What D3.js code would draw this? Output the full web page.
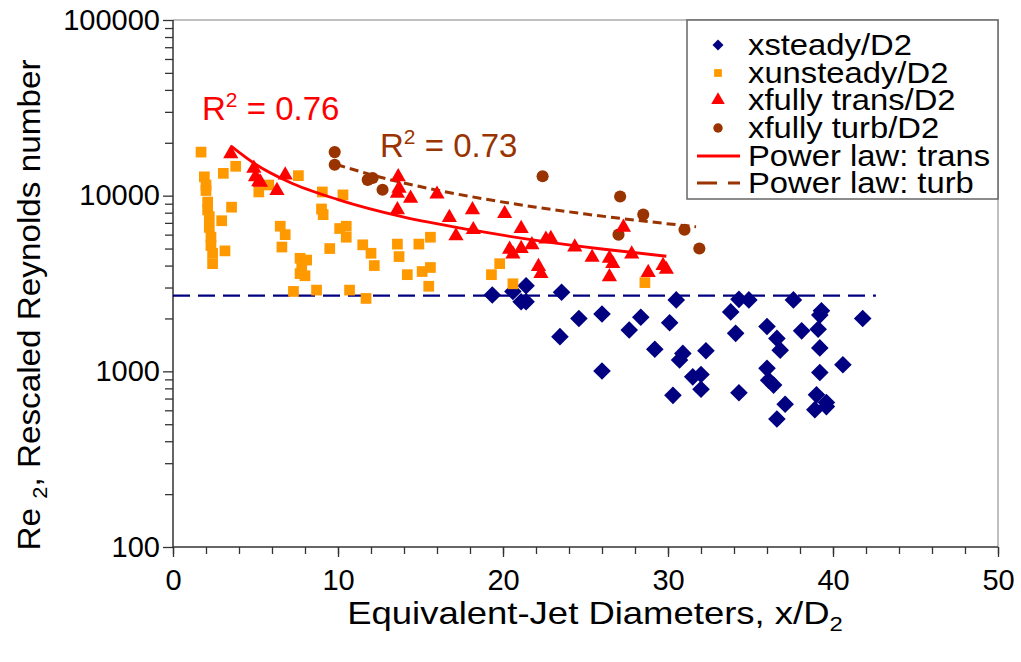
<!DOCTYPE html>
<html><head><meta charset="utf-8">
<script src="https://cdn.jsdelivr.net/npm/d3@7"></script>
<style>body{margin:0;background:#fff}svg{display:block;font-family:"Liberation Sans",Arial,sans-serif}</style>
</head><body><svg id="c" width="1021" height="662"></svg>
<script>
// ---- data (x/D2, Re2) ----
const steadyPts = [[19.35,2720],[20.6,2850],[21.4,3070],[21.1,2490],[21.4,2490],[23.55,2820],[24.6,2000],[23.45,1575],[26.0,2120],[26.0,1005],[27.65,1720],[28.35,2030],[29.2,1335],[30.5,2550],[30.1,1890],[30.9,1265],[30.7,1160],[32.3,1310],[31.5,930],[32.0,960],[32.0,790],[30.3,730],[34.3,2570],[34.9,2550],[33.8,2180],[34.1,1645],[34.3,755],[36.0,1800],[36.6,1540],[36.8,1320],[36.0,1040],[36.1,890],[36.4,835],[37.1,650],[36.6,535],[37.6,2550],[38.1,1700],[39.3,2210],[39.2,2090],[39.1,1735],[39.2,1360],[39.2,985],[39.0,735],[38.9,605],[39.6,665],[39.6,630],[40.6,1090],[41.8,2000]];
const unsteadyPts = [[1.7,17700],[1.9,12800],[2.0,11500],[2.0,10700],[2.1,9200],[2.1,8300],[2.2,7600],[2.2,6600],[2.3,5800],[2.3,5200],[2.4,4700],[2.4,4100],[3.05,13400],[3.8,14700],[3.55,8600],[2.95,7200],[3.15,4850],[5.2,10500],[5.8,11500],[7.6,13000],[6.5,6700],[6.8,6000],[6.6,5100],[7.7,4400],[8.1,4300],[7.8,4000],[7.7,3600],[8.0,3500],[7.3,2850],[8.7,2900],[9.05,10500],[9.0,8400],[9.1,7800],[10.3,10100],[10.1,6500],[10.5,6700],[10.5,5800],[9.5,5000],[10.7,2900],[11.5,5250],[12.0,4700],[12.2,4000],[11.7,2600],[13.6,5300],[13.7,4500],[14.2,3550],[14.9,5300],[15.6,5800],[15.1,3700],[15.6,3900],[15.5,3050],[19.3,3550],[19.8,4100],[20.6,3150],[28.6,3200]];
const transPts = [[3.5,17300],[4.9,14300],[5.0,12800],[5.2,12000],[5.3,11900],[6.3,10700],[6.8,13100],[13.65,12800],[13.7,11000],[13.6,10300],[14.4,9650],[13.6,8300],[16.0,10200],[16.75,7500],[17.15,5900],[18.15,8300],[18.2,6400],[20.1,7900],[21.1,6500],[20.4,4950],[20.6,4650],[21.1,5000],[21.75,5250],[22.15,3950],[22.3,3600],[22.6,5650],[22.9,5700],[24.35,5100],[25.4,4450],[26.45,4400],[26.65,4100],[26.45,3450],[27.3,6600],[27.8,4650],[28.8,3650],[29.7,4000],[29.9,3800]];
const turbPts = [[9.8,17700],[9.8,15000],[11.8,12300],[12.1,12600],[12.7,10800],[22.4,12900],[27.1,9900],[28.5,7800],[27.0,6000],[31.0,6400],[31.9,5000]];
const transFit = [[3.5,19200],[5,15100],[7,12000],[10,9500],[14,7550],[18,6400],[22,5570],[26,4970],[29.9,4520]];
const turbFit = [[9.9,15050],[13,12430],[16,10750],[19,9530],[22,8600],[25,7860],[28,7260],[31.7,6650]];
const threshold = {re: 2700, xMax: 42.6};
const xTicks = [0,10,20,30,40,50];
const yTicks = [100,1000,10000,100000];
const legendLabels = ["xsteady/D2","xunsteady/D2","xfully trans/D2","xfully turb/D2","Power law: trans","Power law: turb"];
const r2Labels = [{v:"0.76", color:"#FF0000", x:202, y:120},{v:"0.73", color:"#993300", x:380, y:157}];

// ---- colours ----
const C = {steady:"#000080", unsteady:"#FF9900", trans:"#FF0000", turb:"#993300"};

const svg = d3.select('#c');
const x = d3.scaleLinear().domain([0,50]).range([173,998]);
const y = d3.scaleLog().domain([100,100000]).range([547,20]);

// plot area border (top/right)
svg.append('path').attr('d',`M${x(0)},${y(100000)}H${x(50)}V${y(100)}`).attr('fill','none').attr('stroke','#aaa').attr('stroke-width',1.5);

// minor ticks
const yMinor = [];
[100,1000,10000].forEach(d=>{for(let k=2;k<=9;k++) yMinor.push(d*k);});
svg.append('g').attr('transform',`translate(${x(0)},0)`)
  .call(d3.axisLeft(y).tickValues(yMinor).tickSize(8).tickFormat(''))
  .call(g=>{g.select('.domain').remove(); g.selectAll('line').attr('stroke','#333').attr('stroke-width',1.3);});
const xMinor = d3.range(0,51,2);
svg.append('g').attr('transform',`translate(0,${y(100)})`)
  .call(d3.axisBottom(x).tickValues(xMinor).tickSize(7).tickFormat(''))
  .call(g=>{g.select('.domain').remove(); g.selectAll('line').attr('stroke','#333').attr('stroke-width',1.3);});

// major axes
const yAx = svg.append('g').attr('transform',`translate(${x(0)},0)`)
  .call(d3.axisLeft(y).tickValues(yTicks).tickSize(10).tickPadding(3).tickFormat(d3.format('d')));
const xAx = svg.append('g').attr('transform',`translate(0,${y(100)})`)
  .call(d3.axisBottom(x).tickValues(xTicks).tickSize(10).tickPadding(12).tickFormat(d3.format('d')));
[yAx,xAx].forEach(g=>{
  g.select('.domain').attr('stroke','#333').attr('stroke-width',1.5);
  g.selectAll('line').attr('stroke','#333').attr('stroke-width',1.3);
  g.selectAll('text').attr('font-size',29).attr('fill','#000').attr('font-family','"Liberation Sans",Arial,sans-serif');
});
yAx.select('.domain').attr('d',`M0,${y(100000)}V${y(100)}`);
xAx.select('.domain').attr('d',`M${x(0)},0H${x(50)}`);

// threshold dashed line
svg.append('line').attr('x1',x(0)).attr('x2',x(threshold.xMax)).attr('y1',y(threshold.re)).attr('y2',y(threshold.re))
  .attr('stroke',C.steady).attr('stroke-width',2.2).attr('stroke-dasharray','17,8');

// markers
const sym = (type,size)=>d3.symbol().type(type).size(size)();
function drawPts(pts, type, size, color, rot){
  svg.append('g').selectAll('path').data(pts).join('path')
    .attr('d', sym(type,size))
    .attr('transform', d=>`translate(${x(d[0])},${y(d[1])})${rot?' rotate(45)':''}`)
    .attr('fill', color);
}
drawPts(steadyPts, d3.symbolSquare, 155, C.steady, true);
drawPts(unsteadyPts, d3.symbolSquare, 115, C.unsteady, false);
drawPts(turbPts, d3.symbolCircle, 115, C.turb, false);

// fit lines
const line = d3.line().x(d=>x(d[0])).y(d=>y(d[1])).curve(d3.curveMonotoneX);
svg.append('path').attr('d',line(turbFit)).attr('fill','none').attr('stroke',C.turb).attr('stroke-width',3).attr('stroke-dasharray','9,5');
drawPts(transPts, d3.symbolTriangle, 100, C.trans, false);
svg.append('path').attr('d',line(transFit)).attr('fill','none').attr('stroke',C.trans).attr('stroke-width',2.8);

// R^2 labels
r2Labels.forEach(l=>{
  const t = svg.append('text').attr('x',l.x).attr('y',l.y).attr('font-size',33).attr('fill',l.color);
  t.append('tspan').text('R');
  t.append('tspan').attr('font-size',21).attr('dy',-13).text('2');
  t.append('tspan').attr('dy',13).text(' = '+l.v);
});

// axis titles
const xt = svg.append('text').attr('transform','translate(595,624) scale(1.14,1)').attr('text-anchor','middle').attr('font-size',32).attr('fill','#000');
xt.append('tspan').text('Equivalent-Jet Diameters, x/D');
xt.append('tspan').attr('font-size',21).attr('dy',7).text('2');
const yt = svg.append('text').attr('transform','translate(40,305) rotate(-90) scale(1.04,1)').attr('text-anchor','middle').attr('font-size',32).attr('fill','#000');
yt.append('tspan').text('Re ');
yt.append('tspan').attr('font-size',21).attr('dy',7).text('2');
yt.append('tspan').attr('dy',-7).text(', Rescaled Reynolds number');

// legend
const lg = svg.append('g');
lg.append('rect').attr('x',687).attr('y',20).attr('width',311).attr('height',179).attr('fill','#fff').attr('stroke','#666').attr('stroke-width',1.5);
const rowY = [45,73,100,128,156,183];
const mx = 718;
lg.append('path').attr('d',sym(d3.symbolSquare,60)).attr('transform',`translate(${mx},${rowY[0]}) rotate(45)`).attr('fill',C.steady);
lg.append('path').attr('d',sym(d3.symbolSquare,60)).attr('transform',`translate(${mx},${rowY[1]})`).attr('fill',C.unsteady);
lg.append('path').attr('d',sym(d3.symbolTriangle,80)).attr('transform',`translate(${mx},${rowY[2]})`).attr('fill',C.trans);
lg.append('path').attr('d',sym(d3.symbolCircle,70)).attr('transform',`translate(${mx},${rowY[3]})`).attr('fill',C.turb);
lg.append('line').attr('x1',697).attr('x2',740).attr('y1',rowY[4]).attr('y2',rowY[4]).attr('stroke',C.trans).attr('stroke-width',2.8);
lg.append('line').attr('x1',697).attr('x2',740).attr('y1',rowY[5]).attr('y2',rowY[5]).attr('stroke',C.turb).attr('stroke-width',3).attr('stroke-dasharray','20,11');
legendLabels.forEach((s,i)=>{
  lg.append('text').attr('transform',`translate(748,${rowY[i]}) scale(1.13,1)`).attr('dy','0.35em').attr('font-size',29).attr('fill','#000').text(s);
});
</script>
</body></html>
